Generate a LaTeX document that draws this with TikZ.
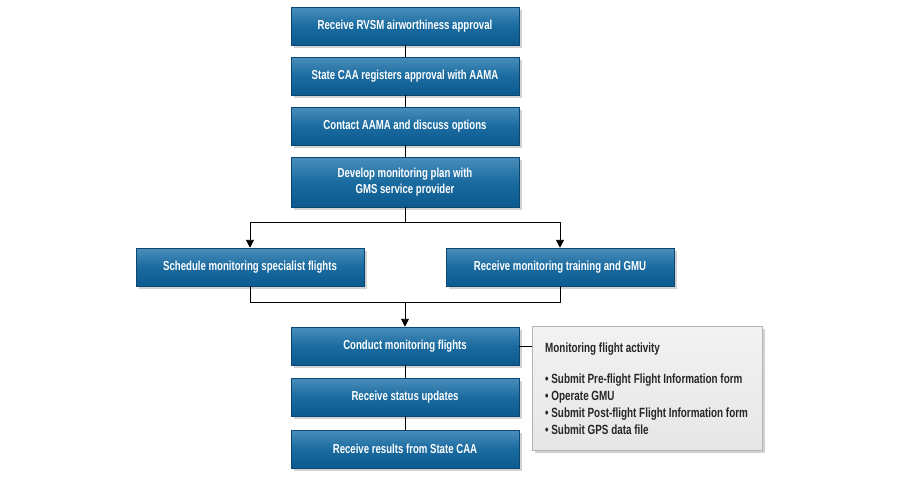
\documentclass[tikz,border=0pt]{standalone}
\usepackage{fontspec}
\setmainfont{Liberation Sans}[FakeStretch=0.74]
\usetikzlibrary{arrows.meta,positioning,shadows}
\definecolor{rvblue}{HTML}{1A6BA0}
\definecolor{rvtop}{HTML}{4A8EBB}
\definecolor{rvbot}{HTML}{0C5A8F}
\definecolor{rvgray}{HTML}{E6E6E6}
\definecolor{rvedge}{HTML}{B4B4B4}

\begin{document}
\begin{tikzpicture}[
    x=0.02cm, y=-0.02cm,
    stepbox/.style={rectangle, minimum width=4.56cm, minimum height=0.76cm,
                    align=center, text=white, font=\fontsize{7.4}{9}\selectfont\bfseries,
                    top color=rvtop, bottom color=rvbot, middle color=rvblue,
                    draw=rvbot!80!black, line width=0.3pt,
                    drop shadow={shadow xshift=1.5pt, shadow yshift=-1.5pt, opacity=0.35}},
    notebox/.style={rectangle, minimum width=4.6cm, minimum height=2.48cm,
                    top color=rvgray!50, bottom color=rvgray, draw=rvedge, line width=0.4pt,
                    drop shadow={shadow xshift=1.5pt, shadow yshift=-1.5pt, opacity=0.35}},
    link/.style={line width=0.5pt, black},
    arr/.style={-{Triangle[length=4.5pt, width=4.5pt]}, line width=0.5pt, black}
  ]

  % ---- Background ----
  \useasboundingbox (0,0) rectangle (900,480);
  \fill[white] (0,0) rectangle (900,480);

  % ---- Main column, top part ----
  \node[stepbox] (approval) at (405,26) {Receive RVSM airworthiness approval};
  \node[stepbox] (registers) at (405,76) {State CAA registers approval with AAMA};
  \node[stepbox] (contact) at (405,126) {Contact AAMA and discuss options};
  \node[stepbox, minimum height=1.0cm] (plan) at (405,182)
    {Develop monitoring plan with\\GMS service provider};

  % ---- Two parallel steps ----
  \node[stepbox] (schedule) at (250,267) {Schedule monitoring specialist flights};
  \node[stepbox] (training) at (560,267) {Receive monitoring training and GMU};

  % ---- Main column, bottom part ----
  \node[stepbox] (conduct) at (405,346) {Conduct monitoring flights};
  \node[stepbox] (status) at (405,397) {Receive status updates};
  \node[stepbox] (results) at (405,449) {Receive results from State CAA};

  % ---- Activity note ----
  \node[notebox] (activity) at (647,388) {};
  \node[anchor=north west, align=left, font=\fontsize{7.6}{9.6}\selectfont\bfseries,
        text=black!85] (actext) at (539,337)
    {Monitoring flight activity\\[8pt]
     \textbullet\ Submit Pre-flight Flight Information form\\
     \textbullet\ Operate GMU\\
     \textbullet\ Submit Post-flight Flight Information form\\
     \textbullet\ Submit GPS data file};

  % ---- Connectors ----
  \draw[link] (approval) -- (registers);
  \draw[link] (registers) -- (contact);
  \draw[link] (contact) -- (plan);
  \coordinate (split) at (405,222);
  \coordinate (merge) at (405,302);
  \draw[link] (plan) -- (split);
  \draw[arr] (split) -| (schedule.north);
  \draw[arr] (split) -| (training.north);
  \draw[link] (schedule.south) |- (merge);
  \draw[link] (training.south) |- (merge);
  \draw[arr] (merge) -- (conduct.north);
  \draw[link] (conduct) -- (status);
  \draw[link] (status) -- (results);
  \draw[link] (conduct.east) -- (activity.west |- conduct.east);

\end{tikzpicture}
\end{document}
